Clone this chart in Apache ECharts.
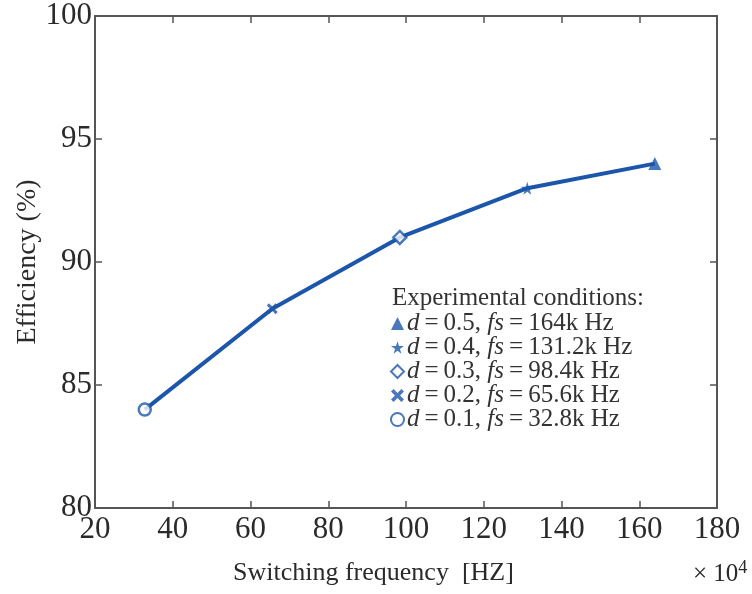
<!DOCTYPE html>
<html>
<head>
<meta charset="utf-8">
<script src="https://cdn.jsdelivr.net/npm/echarts@6/dist/echarts.min.js"></script>
<style>
  html, body { margin: 0; padding: 0; background: #fff; }
  #chart { width: 752px; height: 594px; }
</style>
</head>
<body>
<div id="chart"></div>
<script>
// Measured operating points
const freqValues = [32.8, 65.6, 98.4, 131.2, 164];      // switching frequency (x10^4 axis units)
const efficiency = [84, 88.1, 91, 93, 94];              // efficiency in %
const dutyRatios = ['0.1', '0.2', '0.3', '0.4', '0.5'];
const freqText = ['32.8k', '65.6k', '98.4k', '131.2k', '164k'];
const markerNames = ['circle', 'cross', 'diamond', 'star', 'triangle'];

const BLUE = '#1b56aa';
const AXIS = '#555';
const FONT = '"Liberation Serif", "DejaVu Serif", serif';

const STAR = 'path://M50,0 L61,35 L98,35 L68,57 L79,91 L50,70 L21,91 L32,57 L2,35 L39,35 Z';
const CROSS = 'path://M2,0 L5,3 L8,0 L10,2 L7,5 L10,8 L8,10 L5,7 L2,10 L0,8 L3,5 L0,2 Z';

const symbolStyle = {
  circle:   { symbol: 'circle',   size: 12, itemStyle: { color: '#fff', borderColor: BLUE, borderWidth: 2.5 } },
  cross:    { symbol: CROSS,      size: 11, itemStyle: { color: BLUE } },
  diamond:  { symbol: 'diamond',  size: 13, itemStyle: { color: '#fff', borderColor: BLUE, borderWidth: 2.5 } },
  star:     { symbol: STAR,       size: 13, itemStyle: { color: BLUE } },
  triangle: { symbol: 'triangle', size: 13, itemStyle: { color: BLUE } }
};

const seriesName = i => 'p' + i;

const markerSeries = freqValues.map((f, i) => {
  const s = symbolStyle[markerNames[i]];
  return {
    name: seriesName(i),
    type: 'scatter',
    symbol: s.symbol,
    symbolSize: s.size,
    itemStyle: s.itemStyle,
    z: 5,
    data: [[f, efficiency[i]]]
  };
});

const chart = echarts.init(document.getElementById('chart'), null, { renderer: 'canvas' });

const tickLabel = { fontFamily: FONT, fontSize: 31, color: '#2a2a2a' };
const frameAxis = {
  axisLine: { show: true, lineStyle: { color: AXIS, width: 2 } },
  axisTick: { show: true, inside: true, length: 7, lineStyle: { color: AXIS, width: 1.5 } },
  splitLine: { show: false }
};
const thin = '\u2009';

chart.setOption({
  animation: false,
  backgroundColor: '#fff',
  grid: { left: 95, top: 16, right: 35, bottom: 86, outerBoundsMode: 'none' },
  xAxis: [
    Object.assign({
      type: 'value', min: 20, max: 180, interval: 20, position: 'bottom',
      axisLabel: Object.assign({ margin: 6 }, tickLabel)
    }, frameAxis),
    Object.assign({
      type: 'value', min: 20, max: 180, interval: 20, position: 'top',
      axisLabel: { show: false }
    }, frameAxis)
  ],
  yAxis: [
    Object.assign({
      type: 'value', min: 80, max: 100, interval: 5, position: 'left',
      name: 'Efficiency (%)', nameLocation: 'middle', nameGap: 53, nameMoveOverlap: false,
      nameTextStyle: { fontFamily: FONT, fontSize: 28, color: '#2a2a2a' },
      axisLabel: Object.assign({ margin: 3 }, tickLabel)
    }, frameAxis),
    Object.assign({
      type: 'value', min: 80, max: 100, interval: 5, position: 'right',
      axisLabel: { show: false }
    }, frameAxis)
  ],
  legend: {
    orient: 'vertical',
    left: 385, top: 306,
    itemWidth: 13, itemHeight: 13, itemGap: -1,
    data: [4, 3, 2, 1, 0].map(seriesName),
    formatter: name => {
      const i = Number(name.slice(1));
      return '{i|d}' + thin + '=' + thin + dutyRatios[i] + ', {i|fs}' + thin + '=' + thin + freqText[i] + ' Hz';
    },
    textStyle: {
      fontFamily: FONT, fontSize: 25, color: '#333', lineHeight: 24, padding: [0, 0, 0, -2],
      rich: { i: { fontFamily: FONT, fontSize: 25, fontStyle: 'italic', color: '#333', lineHeight: 24 } }
    }
  },
  graphic: [
    {
      type: 'text', left: 392, top: 286,
      style: { text: 'Experimental conditions:', font: '25px ' + FONT, fill: '#333' }
    },
    {
      type: 'text', left: 233, top: 560,
      style: { text: 'Switching frequency  [HZ]', font: '26px ' + FONT, fill: '#2a2a2a' }
    },
    {
      type: 'text', left: 693, top: 559,
      style: {
        text: '× 10{s|4}',
        font: '25px ' + FONT, fill: '#2a2a2a',
        rich: { s: { fontFamily: FONT, fontSize: 18, fill: '#2a2a2a', verticalAlign: 'top', padding: [0, 0, 13, 0] } }
      }
    }
  ],
  series: [
    {
      name: 'curve',
      type: 'line',
      data: freqValues.map((f, i) => [f, efficiency[i]]),
      showSymbol: false,
      lineStyle: { color: BLUE, width: 4 },
      z: 3
    }
  ].concat(markerSeries)
});
</script>
</body>
</html>
